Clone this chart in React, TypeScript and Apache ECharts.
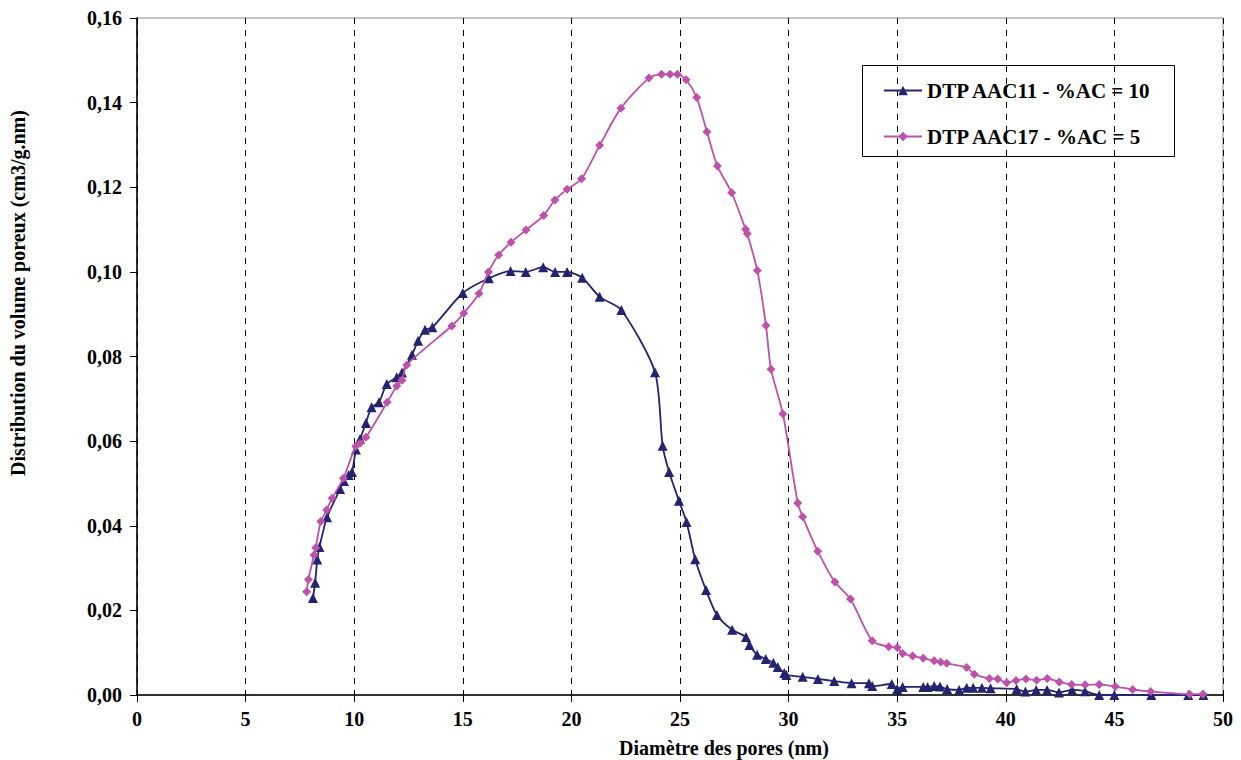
import React, { useEffect, useRef } from "react";
import * as echarts from "echarts";

const xTicks = [0, 5, 10, 15, 20, 25, 30, 35, 40, 45, 50];
const yTicks = [0, 0.02, 0.04, 0.06, 0.08, 0.1, 0.12, 0.14, 0.16];

const seriesNames = ["DTP AAC11 - %AC = 10", "DTP AAC17 - %AC = 5"];

const aac11X = [
  8.1, 8.2, 8.3, 8.4, 8.75, 9.35, 9.53, 9.75, 9.9, 10.08, 10.27, 10.54, 10.8, 11.14, 11.5, 11.96, 12.2,
  12.66, 12.94, 13.26, 13.6, 15.0, 16.2, 17.2, 17.9, 18.7, 19.25, 19.8, 20.5, 21.3, 22.3, 23.85, 24.2,
  24.5, 24.95, 25.3, 25.7, 26.2, 26.7, 27.4, 28.04, 28.2, 28.55, 28.95, 29.3, 29.5, 29.8, 29.9, 30.65,
  31.35, 32.1, 32.9, 33.7, 33.85, 34.75, 35.0, 35.25, 36.2, 36.4, 36.7, 36.97, 37.3, 37.85, 38.2, 38.5,
  38.9, 39.3, 40.5, 40.9, 41.4, 41.9, 42.45, 43.05, 43.65, 44.3, 45.0, 46.7, 48.4, 49.1,
];
const aac11Y = [
  0.0229, 0.0265, 0.032, 0.035, 0.042, 0.0487, 0.0506, 0.052, 0.0527, 0.058, 0.0605, 0.0643, 0.068,
  0.0692, 0.0735, 0.0751, 0.0762, 0.0804, 0.0837, 0.0863, 0.0869, 0.095, 0.0985, 0.1002, 0.1, 0.1011,
  0.1, 0.1, 0.0986, 0.0941, 0.091, 0.0763, 0.0589, 0.0527, 0.0459, 0.0409, 0.0321, 0.0248, 0.0189,
  0.0154, 0.0137, 0.0118, 0.0095, 0.0085, 0.0076, 0.0066, 0.0052, 0.0047, 0.0043, 0.0038, 0.0033,
  0.0028, 0.0028, 0.0021, 0.0026, 0.0014, 0.0019, 0.0019, 0.0019, 0.0021, 0.002, 0.0014, 0.0012,
  0.0017, 0.0017, 0.0017, 0.0016, 0.0014, 0.0008, 0.0012, 0.0012, 0.0006, 0.0012, 0.0009, 0, 0, 0, 0, 0,
];

const aac17X = [
  7.81, 7.89, 8.15, 8.23, 8.46, 8.73, 8.98, 9.5, 10.07, 10.27, 10.54, 11.52, 11.96, 12.2, 12.42, 14.49,
  15.04, 15.75, 16.18, 16.65, 17.22, 17.91, 18.72, 19.24, 19.8, 20.47, 21.3, 22.28, 23.57, 24.15, 24.54,
  24.88, 25.28, 25.77, 26.24, 26.72, 27.38, 28.02, 28.1, 28.56, 28.96, 29.19, 29.74, 30.42, 30.65, 31.34,
  32.13, 32.85, 33.85, 34.61, 35.0, 35.25, 35.71, 36.2, 36.7, 37.0, 37.28, 38.2, 38.55, 39.24, 39.63,
  40.04, 40.47, 40.93, 41.42, 41.91, 42.46, 43.03, 43.65, 44.3, 45.04, 45.84, 46.67, 48.47, 49.08,
];
const aac17Y = [
  0.0244, 0.0273, 0.0331, 0.0348, 0.041, 0.0437, 0.0465, 0.0512, 0.0588, 0.0595, 0.0609, 0.0692, 0.073,
  0.0744, 0.078, 0.0872, 0.0902, 0.0949, 0.1, 0.104, 0.107, 0.1099, 0.1133, 0.117, 0.1195, 0.122, 0.1299,
  0.1387, 0.1458, 0.1467, 0.1467, 0.1467, 0.1454, 0.1412, 0.1331, 0.125, 0.1187, 0.1101, 0.109, 0.1003,
  0.0873, 0.077, 0.0664, 0.0454, 0.0421, 0.034, 0.0267, 0.0227, 0.0128, 0.0114, 0.0112, 0.0098, 0.0092,
  0.0087, 0.0081, 0.0078, 0.0075, 0.0065, 0.0049, 0.0039, 0.0038, 0.0029, 0.0034, 0.0038, 0.0035,
  0.0039, 0.0031, 0.0025, 0.0024, 0.0025, 0.002, 0.0013, 0.0008, 0.0002, 0.0002,
];

const BLUE = "#23236F";
const PINK = "#BD52A9";
const FONT = "'Liberation Serif', 'Times New Roman', serif";

const pairs = (xs: number[], ys: number[]) => xs.map((x, i) => [x, ys[i]]);

export default function App() {
  const ref = useRef<HTMLDivElement>(null);
  useEffect(() => {
    if (!ref.current) return;
    const chart = echarts.init(ref.current, null, { renderer: "svg" });
    chart.setOption({
      animation: false,
      backgroundColor: "#ffffff",
      grid: {
        left: 137,
        right: 18,
        top: 18,
        bottom: 65,
        show: true,
        borderColor: "#8c8c8c",
        borderWidth: 1,
      },
      xAxis: {
        type: "value",
        min: xTicks[0],
        max: xTicks[xTicks.length - 1],
        interval: 5,
        axisLine: { lineStyle: { color: "#000", width: 1.5 } },
        axisTick: { show: true, length: 7, inside: false, lineStyle: { color: "#000" } },
        axisLabel: {
          margin: 14,
          color: "#000",
          fontFamily: FONT,
          fontWeight: "bold",
          fontSize: 20,
        },
        splitLine: {
          show: true,
          lineStyle: { color: "#000", type: [6, 6], width: 1 },
        },
      },
      yAxis: {
        type: "value",
        min: yTicks[0],
        max: yTicks[yTicks.length - 1],
        interval: 0.02,
        axisLine: { show: true, lineStyle: { color: "#000", width: 1.5 } },
        axisTick: { show: true, length: 7, inside: false, lineStyle: { color: "#000" } },
        axisLabel: {
          margin: 15,
          color: "#000",
          fontFamily: FONT,
          fontWeight: "bold",
          fontSize: 20,
          formatter: (v: number) => v.toFixed(2).replace(".", ","),
        },
        splitLine: { show: false },
      },
      legend: {
        left: 883,
        top: 80,
        padding: 0,
        orient: "vertical",
        itemGap: 25,
        itemWidth: 38,
        itemHeight: 12,
        textStyle: { fontFamily: FONT, fontWeight: "bold", fontSize: 21, color: "#000" },
        data: seriesNames,
      },
      graphic: [
        {
          type: "rect",
          shape: { x: 862.5, y: 65.5, width: 312, height: 91 },
          style: { fill: "#fff", stroke: "#000", lineWidth: 1 },
          z: 0,
          zlevel: 0,
        },
        {
          type: "text",
          x: 724,
          y: 748,
          style: {
            text: "Diamètre des pores (nm)",
            fontFamily: FONT,
            fontWeight: "bold",
            fontSize: 20,
            fill: "#000",
            align: "center",
            verticalAlign: "middle",
          },
        },
        {
          type: "text",
          x: 18,
          y: 293,
          rotation: Math.PI / 2,
          style: {
            text: "Distribution du volume poreux (cm3/g.nm)",
            fontFamily: FONT,
            fontWeight: "bold",
            fontSize: 20,
            fill: "#000",
            align: "center",
            verticalAlign: "middle",
          },
        },
      ],
      series: [
        {
          name: seriesNames[0],
          type: "line",
          data: pairs(aac11X, aac11Y),
          smooth: 0.25,
          symbol: "triangle",
          symbolSize: 10,
          z: 3,
          lineStyle: { color: BLUE, width: 1.8 },
          itemStyle: { color: BLUE },
        },
        {
          name: seriesNames[1],
          type: "line",
          data: pairs(aac17X, aac17Y),
          smooth: 0.25,
          symbol: "diamond",
          symbolSize: 9,
          z: 4,
          lineStyle: { color: PINK, width: 1.8 },
          itemStyle: { color: PINK },
        },
      ],
    });
    return () => chart.dispose();
  }, []);
  return (
    <div
      ref={ref}
      style={{ position: "absolute", left: 0, top: 0, width: 1241, height: 760 }}
    />
  );
}
